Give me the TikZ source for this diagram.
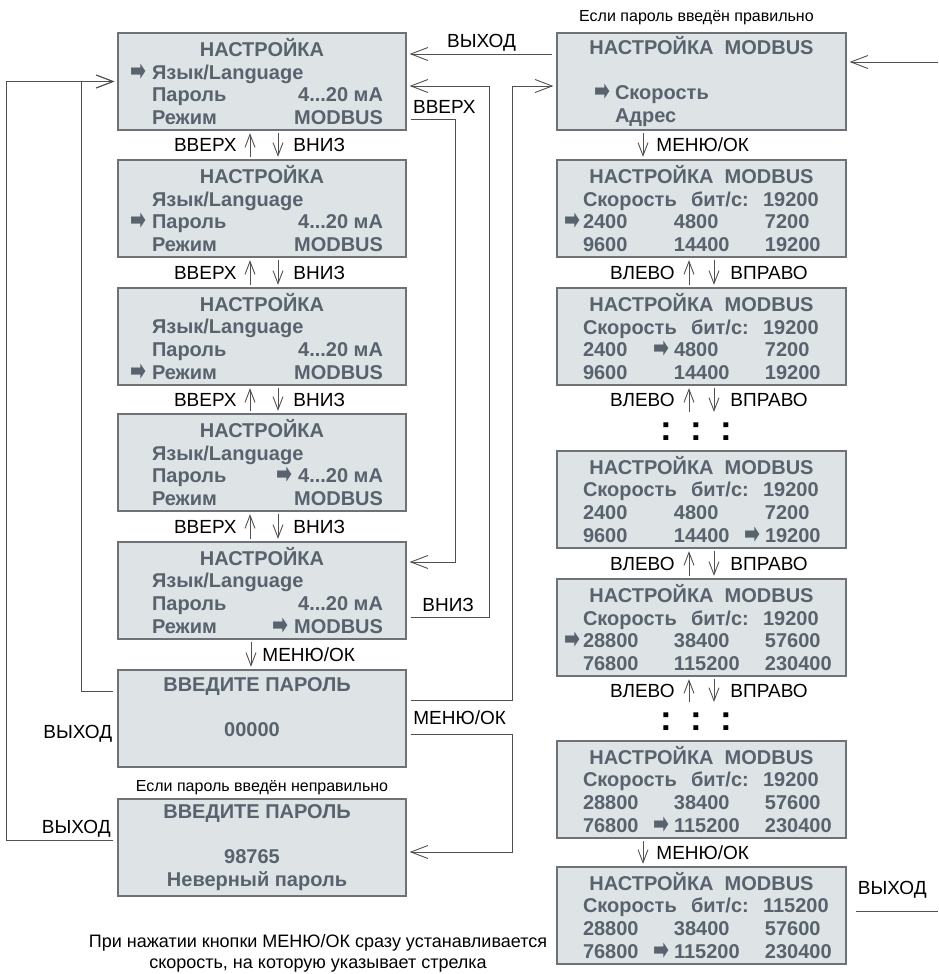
\documentclass[tikz,border=0pt]{standalone}
\usepackage{fontspec}
\setmainfont{Liberation Sans}
\newfontfamily\symfont{DejaVu Sans}
\usepackage{tikz}
\usetikzlibrary{arrows.meta, positioning}
\definecolor{lcd}{RGB}{222,227,230}
\definecolor{lcdtext}{RGB}{88,99,110}
\definecolor{frame}{RGB}{110,114,118}
\definecolor{wirecol}{RGB}{80,80,80}

\newcommand{\ptr}{\raisebox{-1pt}{\scalebox{1}[1.5]{\symfont\fontsize{19}{19}\selectfont ➡}}}
\newcommand{\ltitle}[2][0pt]{\hbox to 242pt{\hfil#2\hfil\kern#1}}
\newcommand{\lrow}[2]{\hbox to 242pt{\kern11pt#1\hfil#2}}
\newcommand{\rtitle}{\hbox to 237pt{\hfil НАСТРОЙКА\hspace{0.55em}MODBUS\hfil}}
\newcommand{\rline}[1]{\hbox to 237pt{\kern32pt#1\hss}}
\newcommand{\rbaud}[1]{\hbox to 237pt{\makebox[108pt][l]{Скорость}\makebox[72pt][l]{бит/с:}#1\hss}}
\newcommand{\rrow}[3]{\hbox to 237pt{\makebox[91pt][l]{#1}\makebox[91pt][l]{#2}#3\hss}}

\tikzset{
    screen/.style={rectangle, draw=frame, fill=lcd, line width=1.3pt, minimum width=288pt, minimum height=97pt, inner sep=0pt, align=center, text=lcdtext, font=\fontsize{20}{22.7}\selectfont\bfseries},
    rscreen/.style={screen, minimum width=289pt},
    wire/.style={draw=wirecol, line width=0.9pt},
    arrow/.style={wire, -{Straight Barb[length=17pt, width=13pt]}, shorten <=4pt, shorten >=3pt},
    stepper/.style={wire, -{Straight Barb[length=13pt, width=10pt]}, shorten <=2.5pt, shorten >=2.5pt},
    btn/.style={font=\fontsize{19}{22}\selectfont, text=black, inner sep=2pt},
    note/.style={font=\fontsize{16}{19}\selectfont, text=black, align=center, inner sep=2pt},
    dots/.style={font=\fontsize{35}{35}\selectfont\bfseries, text=black, inner sep=8pt}
}

\begin{document}
\begin{tikzpicture}[x=1pt, y=-1pt]
    \useasboundingbox (0,0) rectangle (938,974);

    % Settings menu
    \node[screen] (s1) at (262,81.5) {\ltitle{НАСТРОЙКА}\\ \lrow{\llap{\ptr\kern6pt}Язык/Language}{}\\ \lrow{Пароль}{4...20 мА}\\ \lrow{Режим}{MODBUS}};
    \node[screen] (s2) at (262,208.5) {\ltitle{НАСТРОЙКА}\\ \lrow{Язык/Language}{}\\ \lrow{\llap{\ptr\kern6pt}Пароль}{4...20 мА}\\ \lrow{Режим}{MODBUS}};
    \node[screen] (s3) at (262,336.5) {\ltitle{НАСТРОЙКА}\\ \lrow{Язык/Language}{}\\ \lrow{Пароль}{4...20 мА}\\ \lrow{\llap{\ptr\kern6pt}Режим}{MODBUS}};
    \node[screen] (s4) at (262,462.5) {\ltitle{НАСТРОЙКА}\\ \lrow{Язык/Language}{}\\ \lrow{Пароль}{\ptr\kern6pt 4...20 мА}\\ \lrow{Режим}{MODBUS}};
    \node[screen] (s5) at (262,590.5) {\ltitle{НАСТРОЙКА}\\ \lrow{Язык/Language}{}\\ \lrow{Пароль}{4...20 мА}\\ \lrow{Режим}{\ptr\kern6pt MODBUS}};

    % Password screens
    \node[screen] (s6) at (262,718.5) {\ltitle[10pt]{ВВЕДИТЕ ПАРОЛЬ}\\ \mbox{}\\ \ltitle[20pt]{00000}\\ \mbox{}};
    \node[screen] (s7) at (262,847.5) {\ltitle[10pt]{ВВЕДИТЕ ПАРОЛЬ}\\ \mbox{}\\ \ltitle[20pt]{98765}\\ \ltitle[10pt]{Неверный пароль}};
    \node[note, above=1pt] (badpw) at (s7.north) {Если пароль введён неправильно};

    % MODBUS screens
    \node[rscreen] (r1) at (701.5,81.5) {\rtitle\\ \mbox{}\\ \rline{\llap{\ptr\kern5pt}Скорость}\\ \rline{Адрес}};
    \node[note, above=5pt, xshift=-5pt] (okpw) at (r1.north) {Если пароль введён правильно};
    \node[rscreen] (r2) at (701.5,208.5) {\rtitle\\ \rbaud{19200}\\ \rrow{\llap{\ptr\kern3pt}2400}{4800}{7200}\\ \rrow{9600}{14400}{19200}};
    \node[rscreen] (r3) at (701.5,336.5) {\rtitle\\ \rbaud{19200}\\ \rrow{2400}{\llap{\ptr\kern5pt}4800}{7200}\\ \rrow{9600}{14400}{19200}};
    \node[dots] (d1) at (701.5,431.5) {\makebox[30pt]{:}\makebox[30pt]{:}\makebox[30pt]{:}\kern11pt};
    \node[rscreen] (r4) at (701.5,499.5) {\rtitle\\ \rbaud{19200}\\ \rrow{2400}{4800}{7200}\\ \rrow{9600}{14400}{\llap{\ptr\kern5pt}19200}};
    \node[rscreen] (r5) at (701.5,627.5) {\rtitle\\ \rbaud{19200}\\ \rrow{\llap{\ptr\kern3pt}28800}{38400}{57600}\\ \rrow{76800}{115200}{230400}};
    \node[dots] (d2) at (701.5,721.5) {\makebox[30pt]{:}\makebox[30pt]{:}\makebox[30pt]{:}\kern11pt};
    \node[rscreen] (r6) at (701.5,789.5) {\rtitle\\ \rbaud{19200}\\ \rrow{28800}{38400}{57600}\\ \rrow{76800}{\llap{\ptr\kern5pt}115200}{230400}};
    \node[rscreen] (r7) at (701.5,915.5) {\rtitle\\ \rbaud{115200}\\ \rrow{28800}{38400}{57600}\\ \rrow{76800}{\llap{\ptr\kern5pt}115200}{230400}};

    % Footnote
    \node[note, font=\fontsize{18}{21}\selectfont] (hint) at (318,953) {При нажатии кнопки МЕНЮ/ОК сразу устанавливается\\скорость, на которую указывает стрелка};

    % Free ends at the right margin
    \coordinate (inlink) at (938,62);
    \coordinate (outlink) at (938,911);

    % Up / down between menu lines
    \draw[stepper] ([xshift=-12pt]s2.north) -- node[btn, left=11pt]{ВВЕРХ} ([xshift=-12pt]s1.south);
    \draw[stepper] ([xshift=16pt]s1.south) -- node[btn, right=13pt]{ВНИЗ} ([xshift=16pt]s2.north);
    \draw[stepper] ([xshift=-12pt]s3.north) -- node[btn, left=11pt]{ВВЕРХ} ([xshift=-12pt]s2.south);
    \draw[stepper] ([xshift=16pt]s2.south) -- node[btn, right=13pt]{ВНИЗ} ([xshift=16pt]s3.north);
    \draw[stepper] ([xshift=-12pt]s4.north) -- node[btn, left=11pt]{ВВЕРХ} ([xshift=-12pt]s3.south);
    \draw[stepper] ([xshift=16pt]s3.south) -- node[btn, right=13pt]{ВНИЗ} ([xshift=16pt]s4.north);
    \draw[stepper] ([xshift=-12pt]s5.north) -- node[btn, left=11pt]{ВВЕРХ} ([xshift=-12pt]s4.south);
    \draw[stepper] ([xshift=16pt]s4.south) -- node[btn, right=13pt]{ВНИЗ} ([xshift=16pt]s5.north);
    \draw[stepper] ([xshift=-11pt]s5.south) -- node[btn, right=9pt]{МЕНЮ/ОК} ([xshift=-11pt]s6.north);

    % Wrap-around and exits of the menu
    \draw[arrow] ([yshift=-26.5pt]s5.east) -- node[btn, above=3pt]{ВНИЗ} ++(83,0) |- ([yshift=-4.5pt]s1.east);
    \draw[arrow] ([yshift=-37.5pt]s1.east) -- node[btn, pos=0, anchor=south west, xshift=4pt, yshift=3pt]{ВВЕРХ} ++(49,0) |- ([yshift=28.5pt]s5.east);
    \draw[arrow] ([yshift=27.5pt]r1.west) -- node[btn, above]{ВЫХОД} ([yshift=27.5pt]s1.east);
    \draw[arrow] ([yshift=18.5pt]s6.east) -- ++(106,0) |- ([yshift=-4.5pt]r1.west);
    \draw[arrow] ([yshift=-15.5pt]s6.east) -- node[btn, above=7pt]{МЕНЮ/ОК} ++(106,0) |- ([yshift=-4.5pt]s7.east);
    \draw[arrow] ([yshift=27.5pt]s6.west) -- ++(-36,0) |- (s1.west);
    \node[btn, left=3pt] (exitpw) at ([yshift=-15.5pt]s6.west) {ВЫХОД};
    \draw[arrow] ([yshift=7.5pt]s7.west) -- node[btn, above, pos=0.37]{ВЫХОД} ++(-111,0) |- (s1.west);

    % MODBUS steps
    \draw[arrow, shorten <=0pt] (inlink) -- ([yshift=19.5pt]r1.east);
    \draw[stepper] ([xshift=-58.5pt]r1.south) -- node[btn, right=11pt]{МЕНЮ/ОК} ([xshift=-58.5pt]r2.north);
    \draw[stepper] ([xshift=-12.5pt]r3.north) -- node[btn, left=12pt]{ВЛЕВО} ([xshift=-12.5pt]r2.south);
    \draw[stepper] ([xshift=12.5pt]r2.south) -- node[btn, right=14pt]{ВПРАВО} ([xshift=12.5pt]r3.north);
    \draw[stepper] ([xshift=-12.5pt]d1.north) -- node[btn, left=12pt]{ВЛЕВО} ([xshift=-12.5pt]r3.south);
    \draw[stepper] ([xshift=12.5pt]r3.south) -- node[btn, right=14pt]{ВПРАВО} ([xshift=12.5pt]d1.north);
    \draw[stepper] ([xshift=-12.5pt]r5.north) -- node[btn, left=12pt]{ВЛЕВО} ([xshift=-12.5pt]r4.south);
    \draw[stepper] ([xshift=12.5pt]r4.south) -- node[btn, right=14pt]{ВПРАВО} ([xshift=12.5pt]r5.north);
    \draw[stepper] ([xshift=-12.5pt]d2.north) -- node[btn, left=12pt]{ВЛЕВО} ([xshift=-12.5pt]r5.south);
    \draw[stepper] ([xshift=12.5pt]r5.south) -- node[btn, right=14pt]{ВПРАВО} ([xshift=12.5pt]d2.north);
    \draw[stepper] ([xshift=-58.5pt]r6.south) -- node[btn, right=11pt]{МЕНЮ/ОК} ([xshift=-58.5pt]r7.north);
    \draw[wire, shorten <=9pt] ([yshift=4.5pt]r7.east) -- node[btn, above=10pt]{ВЫХОД} (outlink);
\end{tikzpicture}
\end{document}
